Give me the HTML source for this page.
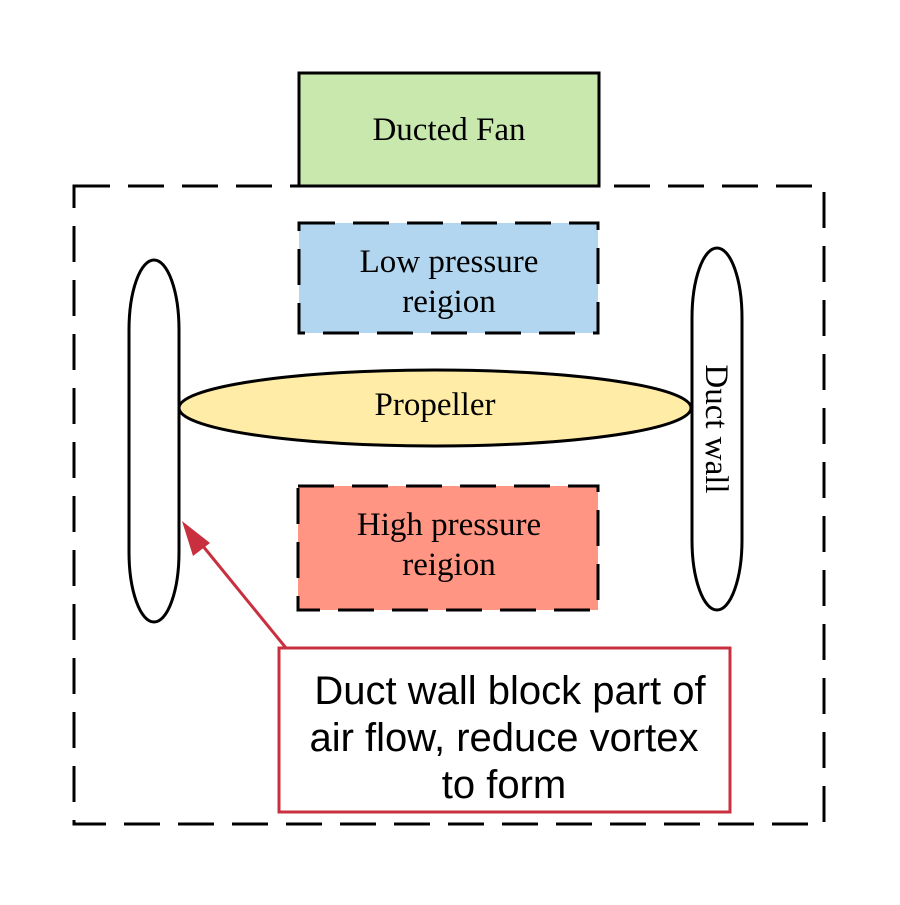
<!DOCTYPE html>
<html><head><style>body{margin:0;background:#fff}</style></head><body>
<svg width="900" height="900" xmlns="http://www.w3.org/2000/svg" font-family="Liberation Serif, serif">
<rect x="299" y="73" width="300" height="113" fill="#c9e8ad" stroke="#000" stroke-width="3"/>
<text x="449" y="140" font-size="33" text-anchor="middle">Ducted Fan</text>
<rect x="74" y="186" width="750" height="638" fill="none" stroke="#000" stroke-width="3" stroke-dasharray="36 18"/>
<rect x="299" y="223" width="299" height="110" fill="#b2d6ef" stroke="#000" stroke-width="3" stroke-dasharray="36 18"/>
<text x="449" y="272" font-size="33" text-anchor="middle">Low pressure</text>
<text x="449" y="312" font-size="33" text-anchor="middle">reigion</text>
<rect x="298" y="486" width="300" height="124" fill="#ff9582" stroke="#000" stroke-width="3" stroke-dasharray="36 18"/>
<text x="449" y="535" font-size="33" text-anchor="middle">High pressure</text>
<text x="449" y="575" font-size="33" text-anchor="middle">reigion</text>
<rect x="129" y="260" width="50" height="362" rx="25" ry="70" fill="#fff" stroke="#000" stroke-width="3"/>
<rect x="692" y="248" width="50" height="362" rx="25" ry="70" fill="#fff" stroke="#000" stroke-width="3"/>
<text transform="translate(706,429) rotate(90)" font-size="33" text-anchor="middle">Duct wall</text>
<ellipse cx="435" cy="408" rx="256" ry="38" fill="#ffeca6" stroke="#000" stroke-width="3"/>
<text x="435" y="415" font-size="33" text-anchor="middle">Propeller</text>
<line x1="286" y1="648" x2="198" y2="540" stroke="#c8303f" stroke-width="3"/>
<polygon points="182,521 210,543 193,556" fill="#c8303f"/>
<rect x="279" y="648" width="451" height="164" fill="#fff" stroke="#c8303f" stroke-width="3"/>
<g font-family="Liberation Sans, sans-serif" font-size="40" text-anchor="middle">
<text x="510" y="704">Duct wall block part of</text>
<text x="504" y="751">air flow, reduce vortex</text>
<text x="504" y="798">to form</text>
</g>
</svg>
</body></html>
